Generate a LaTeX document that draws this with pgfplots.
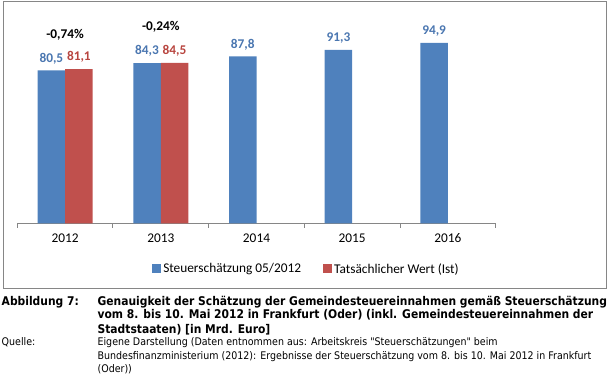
\documentclass[border=0pt]{standalone}
\usepackage{pgfplots}
\pgfplotsset{compat=1.18}
\usepackage{fontspec}
\setmainfont{Carlito}
\newfontfamily\capfontb[FakeStretch=0.894]{DejaVu Sans}
\newfontfamily\capfontr[FakeStretch=0.904]{DejaVu Sans}
\definecolor{sblue}{HTML}{4F81BD}
\definecolor{sred}{HTML}{C0504D}
\definecolor{lblue}{HTML}{4A76B0}
\definecolor{lred}{HTML}{B8453F}
\definecolor{frm}{HTML}{868686}
\begin{document}
\begin{tikzpicture}
\useasboundingbox (0pt,0pt) rectangle (609pt,-377pt);
\draw[frm, line width=1pt] (3pt,-1.5pt) rectangle (606pt,-288pt);
\begin{axis}[
  at={(17.3pt,-223.3pt)}, anchor=south west,
  scale only axis, width=478.4pt, height=190pt,
  xmin=-0.5, xmax=4.5, ymin=0, ymax=100,
  axis x line=bottom, axis y line=none,
  x axis line style={-, draw=frm, line width=1pt},
  xtick={0,1,2,3,4}, xticklabels={2012,2013,2014,2015,2016},
  major x tick style={draw=none},
  minor xtick={-0.5,0.5,1.5,2.5,3.5,4.5},
  minor x tick style={draw=frm, line width=1pt},
  minor tick length=4.5pt, major tick length=0pt, tick align=outside,
  xticklabel style={font=\fontsize{13.33}{16}\selectfont, text=black,
    text height=9pt, text depth=0pt, yshift=-6.5pt},
  ybar, bar width=27.5pt,
  clip=false,
  nodes near coords,
  every node near coord/.append style={font=\bfseries\fontsize{13.33}{16}\selectfont, yshift=3pt},
  /pgf/number format/use comma,
  /pgf/number format/fixed,
  /pgf/number format/fixed zerofill,
  /pgf/number format/precision=1,
  /pgf/number format/assume math mode=true,
  legend style={at={(0.6045,-0.2405)}, anchor=center, draw=none, fill=none,
    legend columns=2, font=\fontsize{13.33}{16}\selectfont,
    /tikz/every even column/.append style={column sep=20pt},
    inner sep=0pt},
]
\addplot[fill=sblue, draw=none, bar shift=-13.75pt,
  every node near coord/.append style={text=lblue},
  legend image code/.code={\fill[sblue] (0pt,-4.5pt) rectangle (9pt,4.5pt);}]
  coordinates {(0,80.5) (1,84.3) (2,87.8) (3,91.3) (4,94.9)};
\addplot[fill=sred, draw=none, bar shift=13.75pt,
  every node near coord/.append style={text=lred},
  legend image code/.code={\fill[sred] (0pt,-4.5pt) rectangle (9pt,4.5pt);}]
  coordinates {(0,81.1) (1,84.5)};
\legend{Steuerschätzung 05/2012, Tatsächlicher Wert (Ist)}
\node[font=\bfseries\fontsize{13.33}{16}\selectfont] at (axis cs:0,99.2) {-0,74\%};
\node[font=\bfseries\fontsize{13.33}{16}\selectfont] at (axis cs:1,103.3) {-0,24\%};
\end{axis}
\begin{scope}[every node/.style={anchor=base west, inner sep=0pt}]
\node[font=\capfontb\bfseries\fontsize{12}{15}\selectfont] at (1.5pt,-305pt) {Abbildung 7:};
\node[font=\capfontb\bfseries\fontsize{12}{15}\selectfont] at (97.4pt,-305pt) {Genauigkeit der Schätzung der Gemeindesteuereinnahmen gemäß Steuerschätzung};
\node[font=\capfontb\bfseries\fontsize{12}{15}\selectfont] at (97.4pt,-318.5pt) {vom 8. bis 10. Mai 2012 in Frankfurt (Oder) (inkl. Gemeindesteuereinnahmen der};
\node[font=\capfontb\bfseries\fontsize{12}{15}\selectfont] at (97.4pt,-333pt) {Stadtstaaten) [in Mrd. Euro]};
\node[font=\capfontr\fontsize{10.5}{12}\selectfont] at (1.5pt,-345.5pt) {Quelle:};
\node[font=\capfontr\fontsize{10.5}{12}\selectfont] at (97.4pt,-345.5pt) {Eigene Darstellung (Daten entnommen aus: Arbeitskreis "Steuerschätzungen" beim};
\node[font=\capfontr\fontsize{10.5}{12}\selectfont] at (97.4pt,-359pt) {Bundesfinanzministerium (2012): Ergebnisse der Steuerschätzung vom 8. bis 10. Mai 2012 in Frankfurt};
\node[font=\capfontr\fontsize{10.5}{12}\selectfont] at (97.4pt,-372.3pt) {(Oder))};
\end{scope}
\end{tikzpicture}
\end{document}
